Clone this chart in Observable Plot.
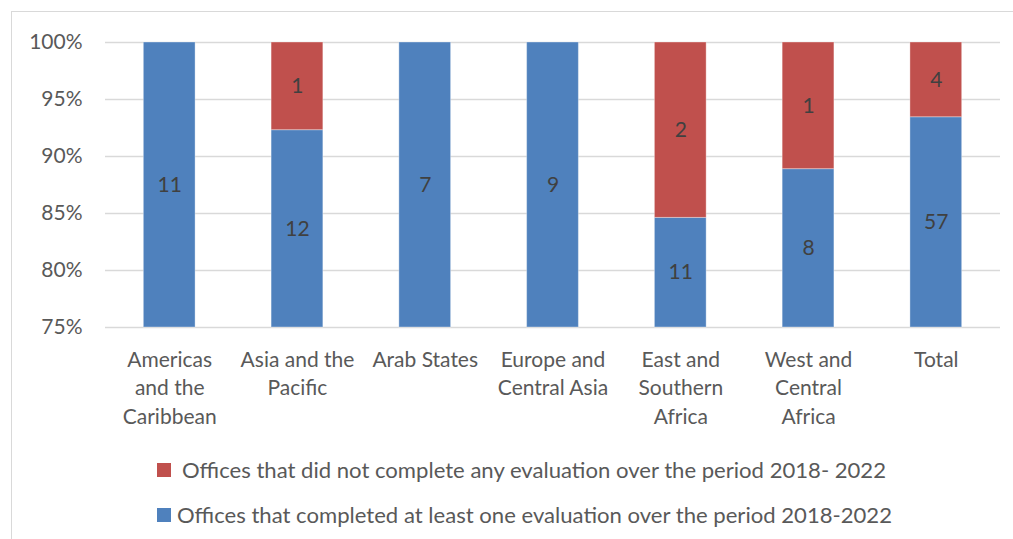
<!DOCTYPE html>
<html>
<head>
<meta charset="utf-8">
<script src="https://cdn.jsdelivr.net/npm/d3@7"></script>
<script src="https://cdn.jsdelivr.net/npm/@observablehq/plot@0.6"></script>
<style>
  body { margin: 0; background: #fff; }
  #chart { position: relative; width: 1013px; height: 539px; overflow: hidden; font-family: Lato, sans-serif; }
  #frame { position: absolute; left: 11px; top: 11px; width: 1100px; height: 700px;
           border-left: 1px solid #d9d9d9; border-top: 1px solid #d9d9d9; pointer-events: none; }
  #plot { position: absolute; left: 0; top: 0; }
  #legend { position: absolute; left: 0; top: 0; width: 1013px; height: 539px; }
</style>
</head>
<body>
<div id="chart">
  <div id="frame"></div>
  <div id="plot"></div>
  <svg id="legend" width="1013" height="539"></svg>
</div>
<script>
// Regions (x axis) and their wrapped tick labels
const regions = [
  "Americas and the Caribbean",
  "Asia and the Pacific",
  "Arab States",
  "Europe and Central Asia",
  "East and Southern Africa",
  "West and Central Africa",
  "Total"
];
const regionLabels = [
  "Americas\nand the\nCaribbean",
  "Asia and the\nPacific",
  "Arab States",
  "Europe and\nCentral Asia",
  "East and\nSouthern\nAfrica",
  "West and\nCentral\nAfrica",
  "Total"
];

// Number of offices per region
const completed    = [11, 12, 7, 9, 11, 8, 57];
const notCompleted = [0, 1, 0, 0, 2, 1, 4];

const seriesNames = [
  "Offices that completed at least one evaluation over the period 2018-2022",
  "Offices that did not complete any evaluation over the period 2018- 2022"
];
const seriesColors = ["#4F81BD", "#C0504D"];

const yTicks = [0.75, 0.80, 0.85, 0.90, 0.95, 1.00];

// Normalised stack: completed at the bottom, not completed on top
const rows = [];
regions.forEach((r, i) => {
  const total = completed[i] + notCompleted[i];
  const share = completed[i] / total;
  rows.push({region: r, series: seriesNames[0], count: completed[i], lo: 0, hi: share});
  rows.push({region: r, series: seriesNames[1], count: notCompleted[i], lo: share, hi: 1});
});
const shown = rows.filter(d => d.count > 0);
const yMin = yTicks[0];

const labelOf = new Map(regions.map((r, i) => [r, regionLabels[i]]));

const chart = Plot.plot({
  width: 1013,
  height: 440,
  marginLeft: 105,
  marginRight: 13,
  marginTop: 42,
  marginBottom: 113,
  style: { fontFamily: "Lato, sans-serif", fontSize: "21px", color: "#595959", background: "transparent" },
  x: { domain: regions, paddingInner: 0.595, paddingOuter: 0.3, round: false, label: null },
  y: { domain: [yMin, 1], clamp: true, label: null },
  color: { domain: seriesNames, range: seriesColors },
  marks: [
    Plot.gridY(yTicks, { stroke: "#d9d9d9", strokeOpacity: 1, strokeWidth: 1.5 }),
    Plot.axisY(yTicks, { tickFormat: d => Math.round(d * 100) + "%", tickSize: 0, tickPadding: 23, fill: "#595959" }),
    Plot.axisX({ tickFormat: d => labelOf.get(d), tickSize: 0, tickPadding: 19, lineHeight: 1.36, fill: "#595959" }),
    Plot.barY(shown, { x: "region", y1: "lo", y2: "hi", fill: "series", stroke: "#ffffff", strokeOpacity: 0.35, strokeWidth: 1 }),
    Plot.text(shown, {
      x: "region",
      y: d => (Math.max(d.lo, yMin) + d.hi) / 2,
      text: d => String(d.count),
      fill: "#404040",
      fontSize: 21
    })
  ]
});
document.getElementById("plot").appendChild(chart);

// Legend below the chart: not-completed first, then completed
const legend = d3.select("#legend");
const entries = [
  { name: seriesNames[1], color: seriesColors[1], y: 470, textX: 182, len: 704 },
  { name: seriesNames[0], color: seriesColors[0], y: 515, textX: 177, len: 715 }
];
entries.forEach(e => {
  legend.append("rect").attr("x", 157).attr("y", e.y - 7).attr("width", 14).attr("height", 14).attr("fill", e.color);
  legend.append("text").attr("x", e.textX).attr("y", e.y).attr("dy", "0.36em")
    .attr("font-family", "Lato, sans-serif").attr("font-size", 21).attr("fill", "#595959")
    .attr("textLength", e.len).attr("lengthAdjust", "spacingAndGlyphs")
    .text(e.name);
});
</script>
</body>
</html>
